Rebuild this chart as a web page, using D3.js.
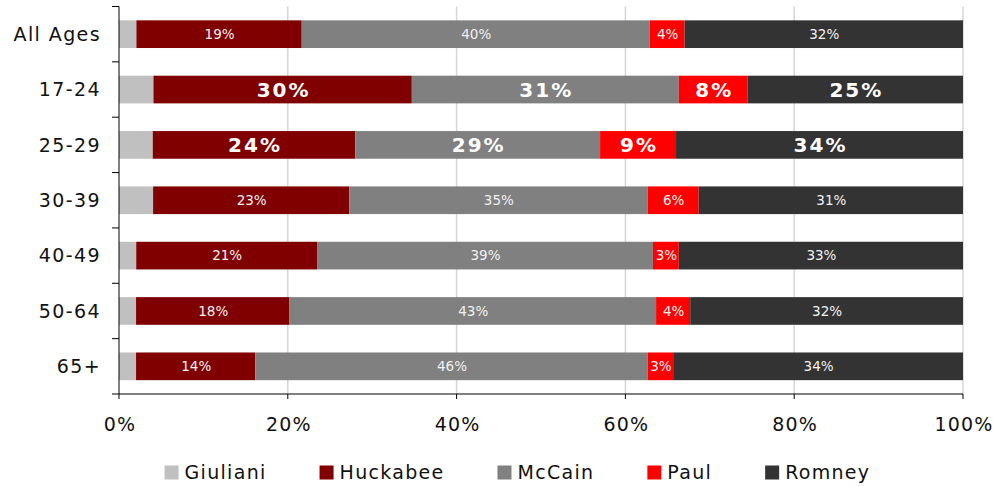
<!DOCTYPE html>
<html>
<head>
<meta charset="utf-8">
<script src="https://cdn.jsdelivr.net/npm/d3@7"></script>
<style>
  body { margin: 0; background: #fff; }
  svg { display: block; font-family: "DejaVu Sans", Verdana, sans-serif; }
</style>
</head>
<body>
<svg id="chart" width="998" height="487"></svg>
<script>
// ---- data (raw survey percentages; bars are normalised to 100%) ----
const categories = ["All Ages", "17-24", "25-29", "30-39", "40-49", "50-64", "65+"];
const seriesNames = ["Giuliani", "Huckabee", "McCain", "Paul", "Romney"];
const giuliani = [2, 4, 4, 4, 2, 2, 2];
const huckabee = [19, 30, 24, 23, 21, 18, 14];
const mccain   = [40, 31, 29, 35, 39, 43, 46];
const paul     = [4, 8, 9, 6, 3, 4, 3];
const romney   = [32, 25, 34, 31, 33, 32, 34];
const labelledSeries = ["Huckabee", "McCain", "Paul", "Romney"];
const emphasized = ["17-24", "25-29"];
const xTicks = [0, 0.2, 0.4, 0.6, 0.8, 1.0];
const colors = ["#c0c0c0", "#800000", "#808080", "#ff0000", "#333333"];

const seriesValues = [giuliani, huckabee, mccain, paul, romney];
const rows = categories.map((c, i) => {
  const r = { category: c };
  seriesNames.forEach((s, j) => r[s] = seriesValues[j][i]);
  return r;
});

const svg = d3.select("#chart");
const margin = { left: 119, right: 35, top: 6.5, bottom: 93 };
const W = 998, H = 487;
const x = d3.scaleLinear().domain([0, 1]).range([margin.left, W - margin.right]);
const y = d3.scaleBand().domain(categories).range([margin.top, H - margin.bottom]).paddingInner(0.5).paddingOuter(0.25);
const color = d3.scaleOrdinal().domain(seriesNames).range(colors);

const stack = d3.stack().keys(seriesNames).offset(d3.stackOffsetExpand);
const stacked = stack(rows);

// gridlines
svg.append("g").selectAll("line").data(xTicks.slice(1)).join("line")
  .attr("x1", d => x(d)).attr("x2", d => x(d))
  .attr("y1", margin.top).attr("y2", H - margin.bottom)
  .attr("stroke", "#d6d6d6").attr("stroke-width", 1.5);

// bars
const layers = svg.append("g").selectAll("g").data(stacked).join("g")
  .attr("fill", d => color(d.key));
layers.selectAll("rect").data(d => d).join("rect")
  .attr("x", d => x(d[0]))
  .attr("width", d => x(d[1]) - x(d[0]))
  .attr("y", d => y(d.data.category))
  .attr("height", y.bandwidth());

// value labels
const labelG = svg.append("g");
stacked.filter(s => labelledSeries.includes(s.key)).forEach(s => {
  s.forEach(d => {
    const emph = emphasized.includes(d.data.category);
    labelG.append("text")
      .attr("x", (x(d[0]) + x(d[1])) / 2 + (emph ? 1 : 0.5))
      .attr("y", y(d.data.category) + y.bandwidth() / 2)
      .attr("dy", "0.36em")
      .attr("text-anchor", "middle")
      .attr("fill", emph ? "#ffffff" : "#f2f2f2")
      .attr("font-size", emph ? 20 : 13.5)
      .attr("font-weight", emph ? "bold" : "normal")
      .attr("letter-spacing", emph ? 2 : 0)
      .text(d.data[s.key] + "%");
  });
});

// axes
const yAxisLeft = x(0);
const bottom = H - margin.bottom;
const axisG = svg.append("g").attr("stroke", "#000").attr("stroke-width", 1);
axisG.append("line").attr("x1", yAxisLeft).attr("x2", yAxisLeft).attr("y1", margin.top).attr("y2", bottom);
axisG.append("line").attr("x1", yAxisLeft).attr("x2", x(1)).attr("y1", bottom).attr("y2", bottom);
// y ticks at band boundaries
const step = y.step();
const yBound = d3.range(categories.length + 1).map(i => margin.top + i * step);
axisG.selectAll(".yt").data(yBound).join("line")
  .attr("x1", yAxisLeft - 7).attr("x2", yAxisLeft)
  .attr("y1", d => d).attr("y2", d => d);
axisG.selectAll(".xt").data(xTicks).join("line")
  .attr("x1", d => x(d)).attr("x2", d => x(d))
  .attr("y1", bottom).attr("y2", bottom + 5);

// y labels
svg.append("g").selectAll("text").data(categories).join("text")
  .attr("x", 101)
  .attr("y", d => y(d) + y.bandwidth() / 2)
  .attr("dy", "0.36em")
  .attr("text-anchor", "end")
  .attr("font-size", 19)
  .attr("letter-spacing", 1.4)
  .attr("fill", "#111")
  .text(d => d);

// x tick labels
svg.append("g").selectAll("text").data(xTicks).join("text")
  .attr("x", d => x(d) + 1)
  .attr("y", 431)
  .attr("text-anchor", "middle")
  .attr("font-size", 19)
  .attr("letter-spacing", 1.2)
  .attr("fill", "#111")
  .text(d => d3.format(".0%")(d));

// legend
const legend = svg.append("g");
const items = legend.selectAll("g").data(seriesNames).join("g");
items.append("rect").attr("width", 14).attr("height", 14).attr("y", 465.5).attr("fill", d => color(d));
items.append("text").attr("x", 20).attr("y", 479)
  .attr("font-size", 19).attr("letter-spacing", 1.3).attr("fill", "#111")
  .text(d => d);
const widths = [];
items.each(function() { widths.push(this.getBBox().width); });
const gap = 53;
const total = d3.sum(widths) + gap * (widths.length - 1);
let cx = 517.5 - total / 2;
items.each(function(d, i) {
  d3.select(this).attr("transform", `translate(${cx},0)`);
  cx += widths[i] + gap;
});
</script>
</body>
</html>
